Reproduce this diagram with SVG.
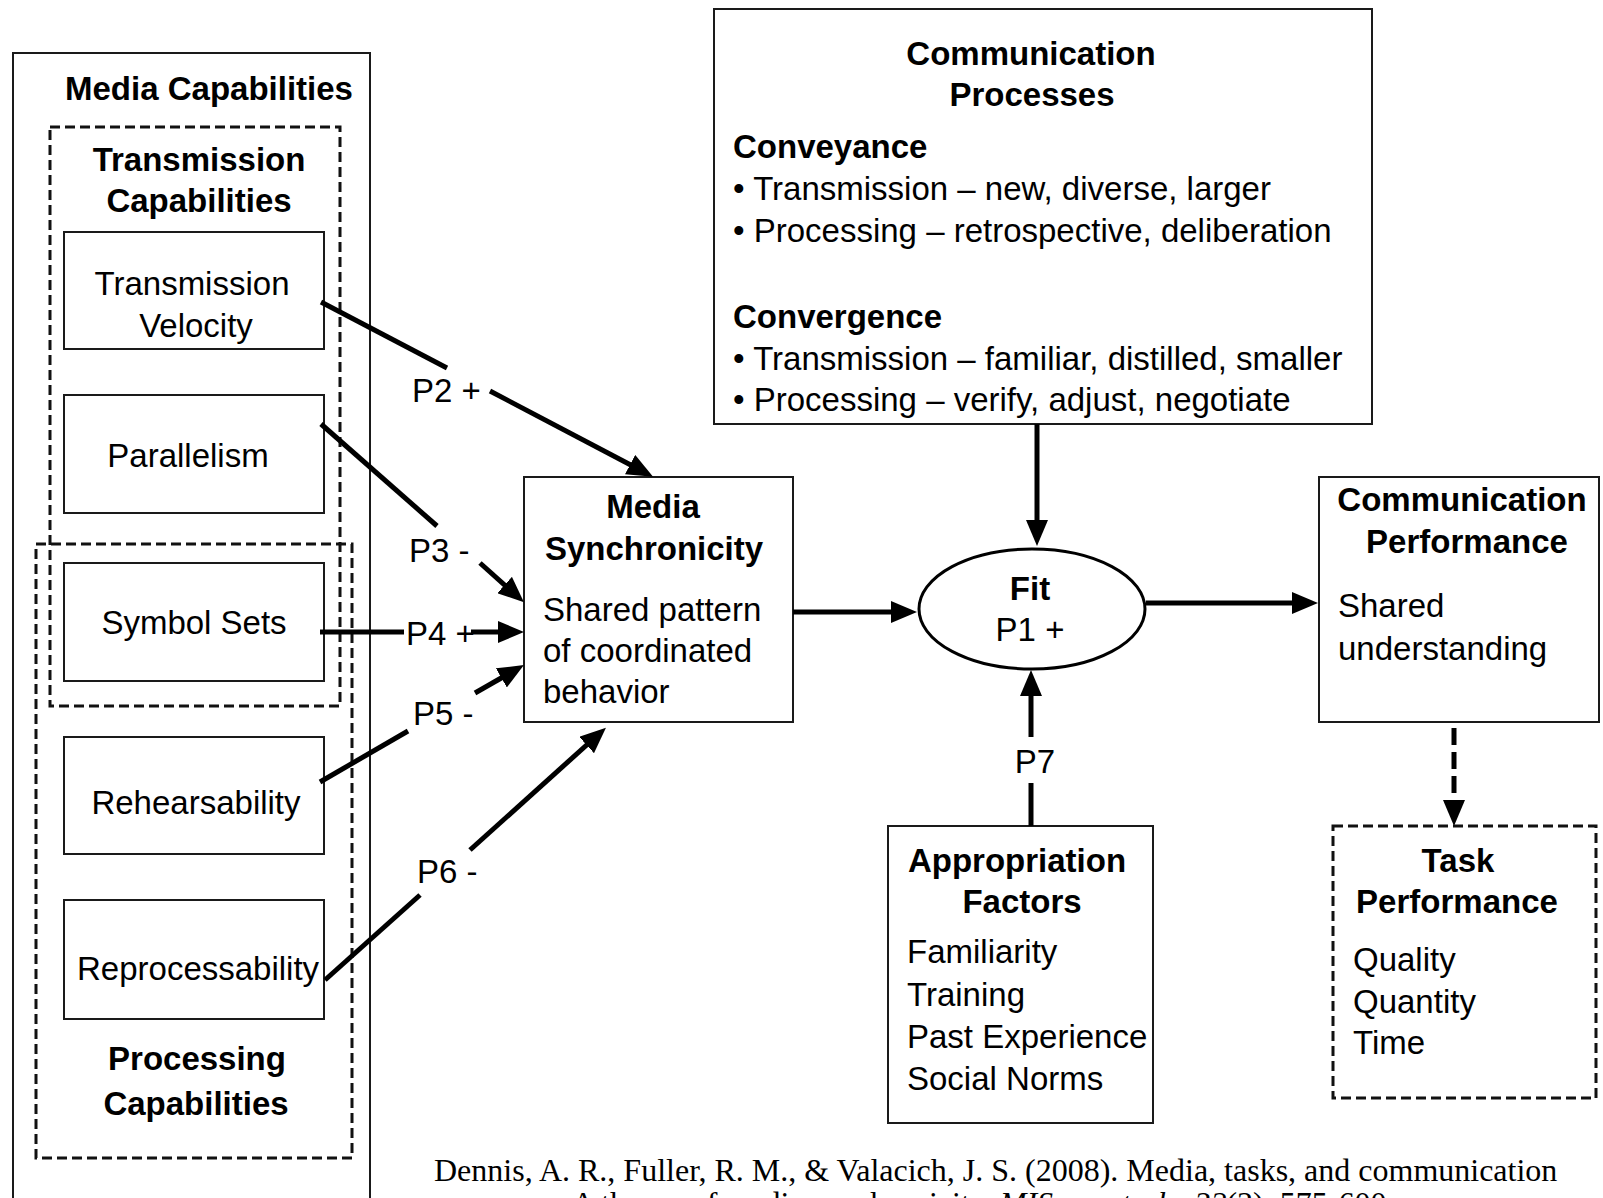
<svg xmlns="http://www.w3.org/2000/svg" width="1603" height="1198" viewBox="0 0 1603 1198">
  <style>
    .box { fill: none; stroke: #1a1a1a; stroke-width: 2; }
    .dash { fill: none; stroke: #111; stroke-width: 3; stroke-dasharray: 10 5; }
    .hd { font-family: "Liberation Sans", Arial, sans-serif; font-size: 33px; font-weight: bold; fill: #000; }
    .tx { font-family: "Liberation Sans", Arial, sans-serif; font-size: 33px; fill: #000; }
    .mid { text-anchor: middle; }
    .cite { font-family: "Liberation Serif", "Times New Roman", serif; font-size: 32px; fill: #000; }
    .link { fill: none; stroke: #000; stroke-width: 5; }
    .link-dash { fill: none; stroke: #000; stroke-width: 5; stroke-dasharray: 17 7; }
  </style>
  <defs>
    <marker id="arrow" markerUnits="userSpaceOnUse" markerWidth="26" markerHeight="22" refX="18" refY="11" orient="auto">
      <path d="M0,0 L26,11 L0,22 Z" fill="#000"/>
    </marker>
  </defs>

  <rect width="1603" height="1198" fill="#fff"/>

  <!-- Media capabilities column -->
  <g id="media-capabilities">
    <rect class="box" x="13" y="53" width="357" height="1180"/>
    <text class="hd mid" x="209" y="100">Media Capabilities</text>
  </g>

  <g id="transmission-capabilities">
    <rect class="dash" x="50" y="127" width="290" height="579"/>
    <text class="hd mid" x="199" y="171">Transmission</text>
    <text class="hd mid" x="199" y="212">Capabilities</text>
  </g>

  <g id="processing-capabilities">
    <rect class="dash" x="36" y="544" width="316" height="614"/>
    <text class="hd mid" x="197" y="1070">Processing</text>
    <text class="hd mid" x="196" y="1115">Capabilities</text>
  </g>

  <g id="transmission-velocity">
    <rect class="box" x="64" y="232" width="260" height="117"/>
    <text class="tx mid" x="192" y="295">Transmission</text>
    <text class="tx mid" x="196" y="337">Velocity</text>
  </g>

  <g id="parallelism">
    <rect class="box" x="64" y="395" width="260" height="118"/>
    <text class="tx mid" x="188" y="467">Parallelism</text>
  </g>

  <g id="symbol-sets">
    <rect class="box" x="64" y="563" width="260" height="118"/>
    <text class="tx mid" x="194" y="634">Symbol Sets</text>
  </g>

  <g id="rehearsability">
    <rect class="box" x="64" y="737" width="260" height="117"/>
    <text class="tx mid" x="196" y="814">Rehearsability</text>
  </g>

  <g id="reprocessability">
    <rect class="box" x="64" y="900" width="260" height="119"/>
    <text class="tx" x="77" y="980">Reprocessability</text>
  </g>

  <!-- Media synchronicity -->
  <g id="media-synchronicity">
    <rect class="box" x="524" y="477" width="269" height="245"/>
    <text class="hd mid" x="653" y="518">Media</text>
    <text class="hd mid" x="654" y="560">Synchronicity</text>
    <text class="tx" x="543" y="621">Shared pattern</text>
    <text class="tx" x="543" y="662">of coordinated</text>
    <text class="tx" x="543" y="703">behavior</text>
  </g>

  <!-- Communication processes -->
  <g id="communication-processes">
    <rect class="box" x="714" y="9" width="658" height="415"/>
    <text class="hd mid" x="1031" y="65">Communication</text>
    <text class="hd mid" x="1032" y="106">Processes</text>
    <text class="hd" x="733" y="158">Conveyance</text>
    <text class="tx" x="733" y="200">• Transmission – new, diverse, larger</text>
    <text class="tx" x="733" y="242">• Processing – retrospective, deliberation</text>
    <text class="hd" x="733" y="328">Convergence</text>
    <text class="tx" x="733" y="370">• Transmission – familiar, distilled, smaller</text>
    <text class="tx" x="733" y="411">• Processing – verify, adjust, negotiate</text>
  </g>

  <!-- Fit -->
  <g id="fit">
    <ellipse cx="1032" cy="609" rx="113" ry="60" fill="none" stroke="#000" stroke-width="3"/>
    <text class="hd mid" x="1030" y="600">Fit</text>
    <text class="tx mid" x="1030" y="641">P1 +</text>
  </g>

  <!-- Communication performance -->
  <g id="communication-performance">
    <rect class="box" x="1319" y="477" width="280" height="245"/>
    <text class="hd mid" x="1462" y="511">Communication</text>
    <text class="hd mid" x="1467" y="553">Performance</text>
    <text class="tx" x="1338" y="617">Shared</text>
    <text class="tx" x="1338" y="660">understanding</text>
  </g>

  <!-- Appropriation factors -->
  <g id="appropriation-factors">
    <rect class="box" x="888" y="826" width="265" height="297"/>
    <text class="hd mid" x="1017" y="872">Appropriation</text>
    <text class="hd mid" x="1022" y="913">Factors</text>
    <text class="tx" x="907" y="963">Familiarity</text>
    <text class="tx" x="907" y="1006">Training</text>
    <text class="tx" x="907" y="1048">Past Experience</text>
    <text class="tx" x="907" y="1090">Social Norms</text>
  </g>

  <!-- Task performance -->
  <g id="task-performance">
    <rect class="dash" x="1333" y="826" width="263" height="272"/>
    <text class="hd mid" x="1458" y="872">Task</text>
    <text class="hd mid" x="1457" y="913">Performance</text>
    <text class="tx" x="1353" y="971">Quality</text>
    <text class="tx" x="1353" y="1013">Quantity</text>
    <text class="tx" x="1353" y="1054">Time</text>
  </g>

  <!-- Connectors and proposition labels -->
  <g id="connectors">
    <!-- P2: transmission velocity -->
    <line class="link" x1="321" y1="302" x2="447" y2="368"/>
    <line class="link" x1="490" y1="391" x2="646" y2="473" marker-end="url(#arrow)"/>
    <text class="tx" x="412" y="402">P2 +</text>

    <!-- P3: parallelism -->
    <line class="link" x1="321" y1="424" x2="437" y2="526"/>
    <line class="link" x1="480" y1="563" x2="518" y2="597" marker-end="url(#arrow)"/>
    <text class="tx" x="409" y="562">P3 -</text>

    <!-- P4: symbol sets -->
    <line class="link" x1="320" y1="632" x2="404" y2="632"/>
    <line class="link" x1="471" y1="632" x2="516" y2="632" marker-end="url(#arrow)"/>
    <text class="tx" x="406" y="645">P4 +</text>

    <!-- P5: rehearsability -->
    <line class="link" x1="320" y1="782" x2="408" y2="731"/>
    <line class="link" x1="475" y1="693" x2="517" y2="669" marker-end="url(#arrow)"/>
    <text class="tx" x="413" y="725">P5 -</text>

    <!-- P6: reprocessability -->
    <line class="link" x1="325" y1="980" x2="420" y2="895"/>
    <line class="link" x1="470" y1="850" x2="600" y2="733" marker-end="url(#arrow)"/>
    <text class="tx" x="417" y="883">P6 -</text>

    <!-- media synchronicity to fit -->
    <line class="link" x1="793" y1="612" x2="909" y2="612" marker-end="url(#arrow)"/>

    <!-- communication processes to fit -->
    <line class="link" x1="1037" y1="424" x2="1037" y2="538" marker-end="url(#arrow)"/>

    <!-- P7: appropriation factors to fit -->
    <line class="link" x1="1031" y1="826" x2="1031" y2="783"/>
    <line class="link" x1="1031" y1="737" x2="1031" y2="678" marker-end="url(#arrow)"/>
    <text class="tx mid" x="1035" y="773">P7</text>

    <!-- fit to communication performance -->
    <line class="link" x1="1146" y1="603" x2="1310" y2="603" marker-end="url(#arrow)"/>

    <!-- communication performance to task performance -->
    <line class="link-dash" x1="1454" y1="728" x2="1454" y2="818" marker-end="url(#arrow)"/>
  </g>

  <!-- Source reference -->
  <g id="citation">
    <text class="cite" x="434" y="1181">Dennis, A. R., Fuller, R. M., &amp; Valacich, J. S. (2008). Media, tasks, and communication</text>
    <text class="cite" x="434" y="1214">processes: A theory of media synchronicity. <tspan font-style="italic">MIS quarterly, 32</tspan>(3), 575-600.</text>
  </g>
</svg>
